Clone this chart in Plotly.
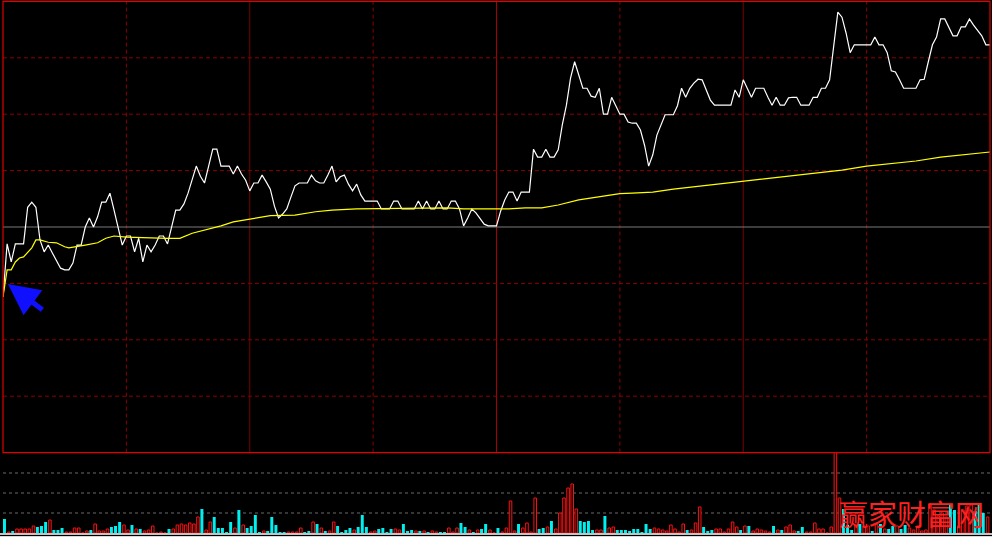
import plotly.graph_objects as go

# ---- data ----
# price change vs previous close, in %, one value per trading minute (241 minutes)
price_pct = [
    -1.24, -0.30, -0.62, -0.30, -0.30, -0.30, 0.35, 0.44, 0.35, -0.23,
    -0.44, -0.32, -0.46, -0.59, -0.73, -0.76, -0.76, -0.64, -0.32, -0.32,
    0.00, 0.16, 0.00, 0.18, 0.44, 0.44, 0.60, 0.30, 0.00, -0.32,
    -0.16, -0.16, -0.44, -0.20, -0.62, -0.32, -0.44, -0.32, -0.16, -0.16,
    -0.30, 0.00, 0.30, 0.30, 0.41, 0.60, 0.83, 1.08, 0.90, 0.78,
    1.08, 1.38, 1.38, 1.08, 1.08, 1.08, 0.94, 1.08, 0.94, 0.83,
    0.64, 0.78, 0.78, 0.92, 0.80, 0.67, 0.37, 0.16, 0.23, 0.32,
    0.53, 0.73, 0.78, 0.78, 0.78, 0.92, 0.82, 0.78, 0.78, 0.92,
    1.08, 0.80, 0.89, 0.92, 0.76, 0.64, 0.76, 0.57, 0.46, 0.46,
    0.46, 0.46, 0.32, 0.32, 0.32, 0.46, 0.46, 0.32, 0.32, 0.32,
    0.32, 0.46, 0.32, 0.46, 0.32, 0.32, 0.46, 0.32, 0.32, 0.46,
    0.46, 0.32, 0.02, 0.16, 0.32, 0.25, 0.16, 0.05, 0.02, 0.02,
    0.02, 0.28, 0.48, 0.62, 0.62, 0.46, 0.62, 0.62, 0.62, 1.38,
    1.24, 1.24, 1.38, 1.24, 1.24, 1.37, 1.81, 2.16, 2.64, 2.93,
    2.68, 2.46, 2.46, 2.32, 2.30, 2.46, 2.00, 2.00, 2.30, 2.16,
    2.00, 2.00, 1.86, 1.84, 1.84, 1.72, 1.45, 1.08, 1.28, 1.63,
    1.81, 1.99, 1.99, 1.99, 2.15, 2.46, 2.30, 2.46, 2.55, 2.62,
    2.61, 2.43, 2.25, 2.16, 2.16, 2.16, 2.16, 2.16, 2.43, 2.30,
    2.61, 2.46, 2.30, 2.46, 2.46, 2.46, 2.30, 2.16, 2.30, 2.16,
    2.16, 2.29, 2.30, 2.30, 2.16, 2.16, 2.16, 2.30, 2.30, 2.46,
    2.46, 2.61, 3.23, 3.81, 3.72, 3.44, 3.09, 3.23, 3.23, 3.23,
    3.23, 3.23, 3.37, 3.23, 3.23, 3.09, 2.77, 2.75, 2.61, 2.46,
    2.46, 2.46, 2.46, 2.61, 2.62, 2.93, 3.23, 3.37, 3.69, 3.69,
    3.53, 3.39, 3.39, 3.55, 3.55, 3.69, 3.58, 3.49, 3.39, 3.23,
    3.23,
]
minutes = list(range(len(price_pct)))

# average-price line (minute, % change)
avg_minutes = [0, 1, 2, 3, 4, 5, 7, 8, 9, 11, 13, 15, 16, 18, 20, 23, 25, 27, 30,
               40, 43, 46, 50, 53, 56, 60, 65, 71, 76, 80, 86, 108, 112, 123,
               127, 131, 135, 140, 145, 150, 153, 158, 163, 168, 173, 178, 182,
               189, 196, 204, 210, 216, 222, 228, 234, 240]
avg_pct = [-1.24, -0.76, -0.76, -0.62, -0.55, -0.53, -0.37, -0.23, -0.23, -0.27,
           -0.28, -0.35, -0.37, -0.35, -0.32, -0.28, -0.20, -0.16, -0.18,
           -0.20, -0.20, -0.11, -0.04, 0.02, 0.09, 0.14, 0.20, 0.21, 0.27, 0.30,
           0.32, 0.34, 0.32, 0.32, 0.34, 0.34, 0.39, 0.48, 0.53, 0.59, 0.60,
           0.62, 0.67, 0.71, 0.76, 0.80, 0.83, 0.89, 0.94, 1.01, 1.08, 1.13,
           1.17, 1.24, 1.29, 1.33]

# volume per minute (arbitrary units) and direction (1 = up/red, 0 = down/cyan)
volume = [
    14, 1, 2, 4, 4, 4, 4, 7, 6, 7,
    11, 13, 3, 3, 5, 1, 1, 5, 5, 0,
    2, 3, 9, 2, 2, 4, 6, 7, 11, 8,
    3, 8, 4, 4, 2, 3, 7, 0, 1, 0,
    4, 4, 8, 9, 8, 10, 9, 16, 24, 3,
    11, 16, 5, 5, 1, 11, 5, 23, 8, 5,
    7, 18, 1, 2, 2, 16, 8, 1, 1, 1,
    1, 1, 5, 1, 2, 11, 9, 5, 2, 2,
    11, 7, 1, 3, 5, 3, 6, 18, 6, 1,
    2, 4, 5, 1, 4, 4, 3, 9, 2, 3,
    2, 2, 2, 1, 2, 1, 1, 1, 5, 1,
    5, 10, 6, 3, 1, 3, 4, 9, 3, 0,
    5, 1, 5, 32, 2, 9, 5, 10, 1, 35,
    4, 5, 6, 12, 4, 20, 35, 45, 49, 24,
    12, 11, 12, 3, 3, 3, 17, 5, 6, 3,
    3, 3, 2, 4, 4, 1, 9, 4, 5, 4,
    3, 2, 8, 4, 1, 9, 3, 3, 10, 26,
    6, 2, 3, 4, 4, 1, 4, 11, 6, 3,
    7, 7, 2, 4, 3, 2, 1, 7, 3, 3,
    6, 8, 2, 2, 6, 1, 1, 10, 4, 4,
    0, 6, 150, 35, 24, 8, 3, 8, 9, 7,
    7, 2, 9, 9, 4, 4, 7, 7, 4, 8,
    5, 3, 7, 2, 3, 29, 23, 17, 20, 16,
    29, 23, 7, 23, 27, 28, 22, 28, 20, 16,
    3,
]
vol_up = [
    0, 1, 0, 1, 1, 1, 1, 1, 0, 0,
    0, 1, 0, 0, 0, 1, 1, 1, 1, 1,
    1, 0, 1, 1, 1, 1, 0, 0, 0, 1,
    1, 0, 1, 0, 1, 1, 1, 1, 1, 1,
    0, 1, 1, 1, 1, 1, 1, 1, 0, 1,
    1, 0, 0, 0, 0, 0, 1, 0, 1, 0,
    0, 0, 0, 1, 0, 0, 0, 0, 0, 1,
    1, 1, 1, 0, 0, 1, 0, 1, 0, 1,
    1, 0, 0, 0, 0, 1, 0, 0, 0, 1,
    1, 0, 0, 0, 0, 1, 1, 0, 0, 0,
    1, 0, 1, 0, 1, 1, 0, 0, 1, 1,
    1, 0, 0, 1, 0, 1, 0, 0, 1, 1,
    0, 1, 1, 1, 1, 0, 1, 1, 1, 1,
    0, 0, 1, 0, 1, 1, 1, 1, 1, 1,
    0, 0, 0, 0, 1, 1, 0, 1, 1, 0,
    0, 0, 0, 0, 0, 0, 0, 0, 1, 1,
    1, 1, 1, 1, 1, 1, 0, 1, 1, 1,
    0, 0, 0, 1, 1, 1, 1, 1, 1, 0,
    1, 0, 1, 1, 1, 1, 1, 0, 1, 0,
    1, 1, 1, 0, 0, 1, 1, 1, 1, 1,
    1, 1, 1, 1, 0, 0, 0, 1, 0, 1,
    1, 0, 1, 0, 1, 0, 0, 1, 0, 0,
    1, 1, 1, 1, 1, 1, 1, 1, 1, 1,
    0, 0, 1, 1, 1, 1, 0, 0, 0, 1,
    1,
]
watermark = "赢家财富网"

# ---- figure ----
W, H = 992, 537
up_x = [m for m, u in zip(minutes, vol_up) if u == 1]
up_v = [v for v, u in zip(volume, vol_up) if u == 1]
dn_x = [m for m, u in zip(minutes, vol_up) if u == 0]
dn_v = [v for v, u in zip(volume, vol_up) if u == 0]

fig = go.Figure()
fig.add_trace(go.Bar(x=dn_x, y=dn_v, yaxis="y2", offset=0, width=0.72,
                     marker=dict(color="#00f0f0", line=dict(width=0)),
                     hoverinfo="skip"))
fig.add_trace(go.Bar(x=up_x, y=up_v, yaxis="y2", offset=0.1, width=0.62,
                     marker=dict(color="#000000", line=dict(color="#ff1010", width=1)),
                     hoverinfo="skip"))
fig.add_trace(go.Scatter(x=minutes, y=price_pct, mode="lines",
                         line=dict(color="#ffffff", width=1.2), hoverinfo="skip"))
fig.add_trace(go.Scatter(x=avg_minutes, y=avg_pct, mode="lines",
                         line=dict(color="#ffff00", width=1.2), hoverinfo="skip"))

def py(p):
    return (H - p) / H

shapes = []
for v in [-3, -2, -1, 1, 2, 3]:
    shapes.append(dict(type="line", xref="x", yref="y", x0=0, x1=240, y0=v, y1=v,
                       line=dict(color="#8a0000", width=1, dash="4px,3px"), layer="below"))
shapes.append(dict(type="line", xref="x", yref="y", x0=0, x1=240, y0=0, y1=0,
                   line=dict(color="#7a7a7a", width=1), layer="below"))
for m in [30, 90, 150, 210]:
    shapes.append(dict(type="line", xref="x", yref="y domain", x0=m, x1=m, y0=0, y1=1,
                       line=dict(color="#8a0000", width=1, dash="4px,3px"), layer="below"))
for m, c in [(60, "#7a0000"), (180, "#7a0000"), (120, "#a80000")]:
    shapes.append(dict(type="line", xref="x", yref="y domain", x0=m, x1=m, y0=0, y1=1,
                       line=dict(color=c, width=1), layer="below"))
for v in [20, 40, 60]:
    shapes.append(dict(type="line", xref="paper", yref="y2", x0=0, x1=1, y0=v, y1=v,
                       line=dict(color="#6a6a6a", width=1, dash="3px,3px"), layer="below"))
shapes.append(dict(type="rect", xref="paper", yref="y domain", x0=0, x1=1, y0=0, y1=1,
                   line=dict(color="#e00000", width=1.2)))
shapes.append(dict(type="line", xref="paper", yref="paper", x0=-0.01, x1=1.01,
                   y0=py(534), y1=py(534), line=dict(color="#c4c4c4", width=2)))
shapes.append(dict(type="line", xref="paper", yref="paper", x0=-0.01, x1=1.01,
                   y0=py(536.5), y1=py(536.5), line=dict(color="#d8d8d8", width=1)))

annotations = [
    dict(x=1.2, y=-1.01, xref="x", yref="y", text="", showarrow=True,
         arrowhead=2, arrowsize=1.25, arrowwidth=5, arrowcolor="#1010ff",
         ax=36, ay=27, standoff=0),
    dict(x=(911 - 3) / 987, y=py(513), xref="paper", yref="paper", text=watermark,
         showarrow=False, xanchor="center", yanchor="middle",
         font=dict(family="Noto Sans CJK SC", size=29, color="#ff2020")),
]

fig.update_layout(
    width=W, height=H,
    margin=dict(l=3, r=2, t=0, b=0),
    paper_bgcolor="#000000", plot_bgcolor="#000000",
    showlegend=False, barmode="overlay",
    xaxis=dict(range=[0, 240], visible=False, fixedrange=True),
    yaxis=dict(domain=[py(452.6), py(1.4)], range=[-4, 4], visible=False),
    yaxis2=dict(domain=[py(533), py(453)], range=[0, 80], visible=False),
    shapes=shapes, annotations=annotations,
)

fig.write_html(
    "out.html",
    config={"displayModeBar": False},
    post_script="document.body.style.margin='0px';"
                "document.body.style.overflow='hidden';"
                "document.body.style.background='#000';",
)
